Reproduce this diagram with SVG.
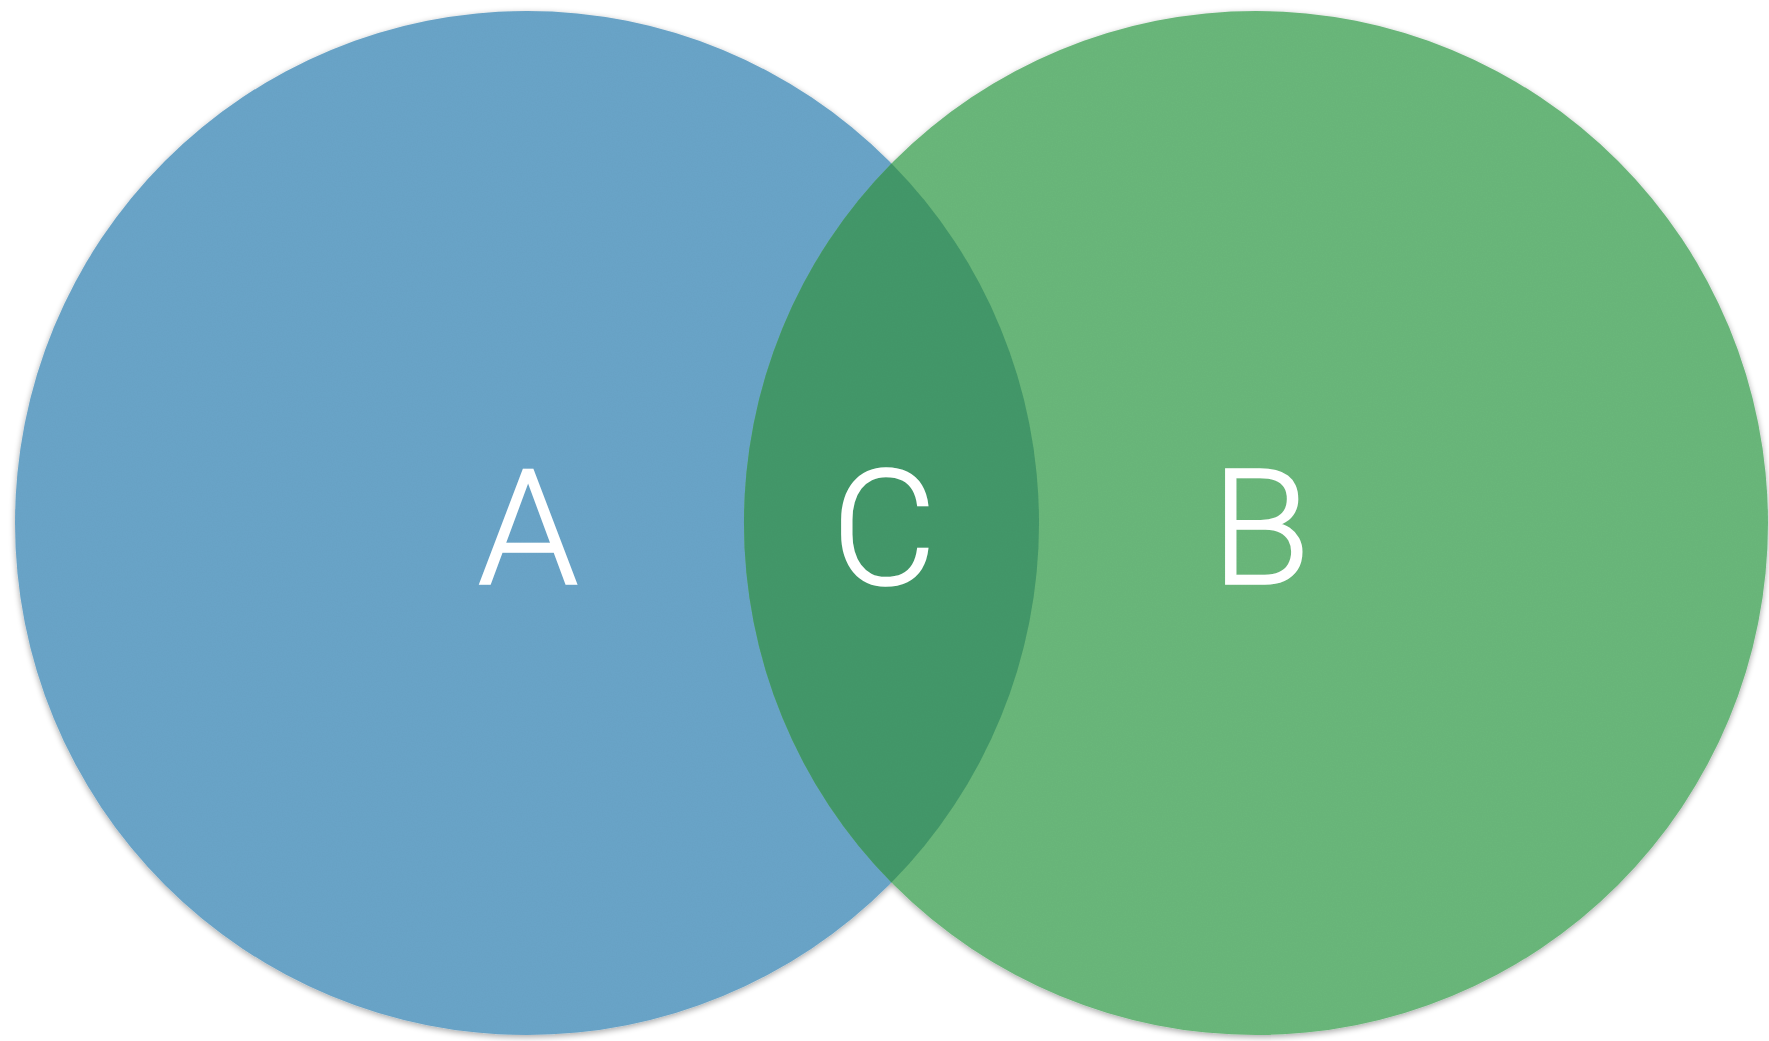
<svg xmlns="http://www.w3.org/2000/svg" width="1769" height="1041" viewBox="0 0 1769 1041">
  <defs>
    <filter id="shadow" x="-5%" y="-5%" width="110%" height="110%">
      <feGaussianBlur in="SourceAlpha" stdDeviation="3"/>
      <feOffset dx="0" dy="2" result="b"/>
      <feComponentTransfer><feFuncA type="linear" slope="0.35"/></feComponentTransfer>
      <feMerge><feMergeNode/><feMergeNode in="SourceGraphic"/></feMerge>
    </filter>
    <filter id="grain" x="0" y="0" width="100%" height="100%">
      <feTurbulence type="fractalNoise" baseFrequency="0.8" numOctaves="2" seed="3" result="n"/>
      <feColorMatrix in="n" type="matrix" values="0 0 0 0 0  0 0 0 0 0  0 0 0 0 0  0 0 0 0.06 0" result="g"/>
      <feComposite in="g" in2="SourceGraphic" operator="in" result="gc"/>
      <feMerge><feMergeNode in="SourceGraphic"/><feMergeNode in="gc"/></feMerge>
    </filter>
  </defs>
  <style>
    .lbl { font-family: "Helvetica Neue", Roboto, "Liberation Sans", sans-serif; font-weight: 300; font-size: 162px; fill: #ffffff; stroke: #ffffff; stroke-width: 1.6px; text-anchor: middle; }
  </style>
  <rect width="1769" height="1041" fill="#ffffff"/>
  <g filter="url(#shadow)">
    <g filter="url(#grain)">
      <g id="setA">
        <circle cx="527" cy="523" r="512" fill="#6ba5c9"/>
      </g>
      <g id="setB">
        <circle cx="1256" cy="523" r="512" fill="#6bb87b"/>
      </g>
      <g id="setC">
        <path d="M 891.5 163.4 A 512 512 0 0 1 891.5 882.6 A 512 512 0 0 1 891.5 163.4 Z" fill="#44996a"/>
      </g>
    </g>
  </g>
  <g id="connectors"/>
  <g id="labels">
    <text class="lbl" x="528" y="584">A</text>
    <text class="lbl" x="884" y="584">C</text>
    <text class="lbl" x="1261" y="584">B</text>
  </g>
</svg>
